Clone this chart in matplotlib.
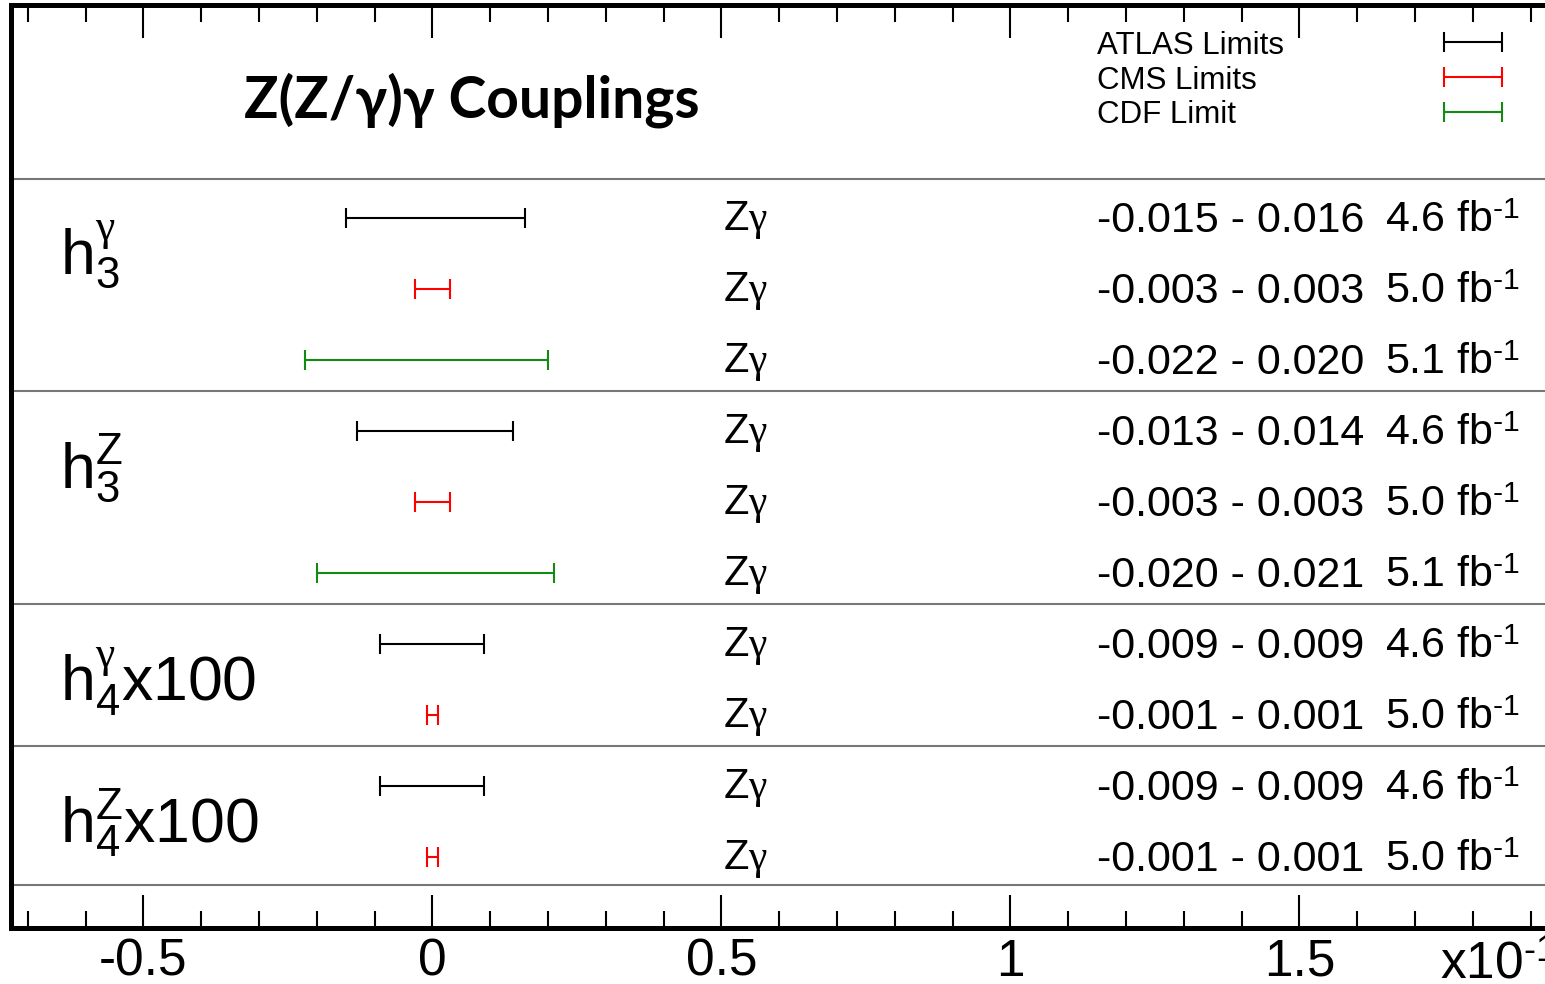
"""
Summary of Z(Z/gamma)gamma anomaly coupling limits (ATLAS, CMS, CDF).
Limits are drawn in units of 1e-1 on the x axis.
"""

import matplotlib
matplotlib.use("Agg")
import matplotlib.pyplot as plt
import matplotlib.ticker as mticker
import matplotlib.transforms as mtransforms

plt.rcParams["font.family"] = "Liberation Sans"
plt.rcParams["mathtext.fontset"] = "custom"
plt.rcParams["mathtext.rm"] = "Liberation Sans"
plt.rcParams["mathtext.it"] = "Liberation Serif"
plt.rcParams["mathtext.cal"] = "Liberation Serif"
plt.rcParams["mathtext.bf"] = "Liberation Sans:bold"

# ── Data (rows top to bottom) ──────────────────────────────────────────────
experiments = ["ATLAS", "CMS", "CDF",
               "ATLAS", "CMS", "CDF",
               "ATLAS", "CMS",
               "ATLAS", "CMS"]
lower = [-0.015, -0.003, -0.022,
         -0.013, -0.003, -0.020,
         -0.009, -0.001,
         -0.009, -0.001]
upper = [0.016, 0.003, 0.020,
         0.014, 0.003, 0.021,
         0.009, 0.001,
         0.009, 0.001]
lumi = [4.6, 5.0, 5.1,
        4.6, 5.0, 5.1,
        4.6, 5.0,
        4.6, 5.0]
channel = [r"Z$\mathcal{\gamma}$"] * 10

couplings = [r"$\mathrm{h}_{3}^{\mathcal{\gamma}}$",
             r"$\mathrm{h}_{3}^{\mathrm{Z}}$",
             r"$\mathrm{h}_{4}^{\mathcal{\gamma}}$x100",
             r"$\mathrm{h}_{4}^{\mathrm{Z}}$x100"]
coupling_y = [9.2, 6.2, 3.19, 1.2]
separators = [10.55, 7.56, 4.56, 2.56, 0.6]

legend_names = ["ATLAS Limits", "CMS Limits", "CDF Limit"]
colors = {"ATLAS": "black", "CMS": "#ff0000", "CDF": "#138a13"}

SCALE = 10.0  # axis is in units of 1e-1

# ── Plot ───────────────────────────────────────────────────────────────────
fig = plt.figure(figsize=(15.45, 9.84), dpi=100)
ax = fig.add_axes([0.0068, 0.0569, 0.9932, 0.9380])
ax.set_xlim(-0.73, 1.925)
ax.set_ylim(0, 13.0)

n = len(lower)
rows = [n - i for i in range(n)]

for y, exp, lo, hi, lum, ch in zip(rows, experiments, lower, upper, lumi, channel):
    c = 0.5 * (lo + hi) * SCALE
    ax.errorbar([c], [y], xerr=[[c - lo * SCALE], [hi * SCALE - c]], fmt="none",
                ecolor=colors[exp], elinewidth=1.5, capsize=7.5, capthick=1.5)
    ax.text(0.502, y - 0.17, ch, fontsize=30, va="baseline", ha="left")
    ax.text(1.1505, y - 0.2, f"{lo:.3f} - {hi:.3f}", fontsize=31,
            va="baseline", ha="left")
    ax.text(1.649, y - 0.2, f"{lum:.1f} fb" + r"$^{\text{-1}}$", fontsize=31,
            va="baseline", ha="left")

for label, y in zip(couplings, coupling_y):
    ax.text(-0.645, y, label, fontsize=45, va="baseline", ha="left")

for y in separators:
    ax.axhline(y, color="#777777", linewidth=1.5)

# legend drawn by hand in the header
for i, (name, exp) in enumerate(zip(legend_names, ["ATLAS", "CMS", "CDF"])):
    y = 12.48 - 0.49 * i
    ax.errorbar([1.80], [y], xerr=[[0.05], [0.05]], fmt="none",
                ecolor=colors[exp], elinewidth=1.5, capsize=7.5, capthick=1.5)
    ax.text(1.1505, y - 0.055, name, fontsize=22.5, va="center", ha="left")

ax.text(0.068, 11.66, "Z(Z/γ)γ Couplings", fontsize=41, fontweight="bold",
        family=["Lato", "Open Sans"], ha="center", va="center")

# axes styling
ax.xaxis.set_major_locator(mticker.MultipleLocator(0.5))
ax.xaxis.set_minor_locator(mticker.MultipleLocator(0.1))
ax.xaxis.set_major_formatter(mticker.FuncFormatter(lambda x, _: f"{x:g}"))
ax.tick_params(axis="x", which="both", direction="in", top=True, bottom=True,
               width=1.5, labelsize=37, pad=7)
ax.tick_params(axis="x", which="major", length=24)
ax.tick_params(axis="x", which="minor", length=12)
ax.tick_params(axis="y", which="both", left=False, labelleft=False)
for side in ["left", "top", "bottom"]:
    ax.spines[side].set_linewidth(3.6)
ax.spines["right"].set_visible(False)

trans = mtransforms.blended_transform_factory(ax.transData, ax.transAxes)
ax.text(1.744, -0.054, r"x10$^{\text{-1}}$", fontsize=37, transform=trans,
        va="baseline", ha="left", clip_on=False)

fig.savefig("out.png", dpi=100)
